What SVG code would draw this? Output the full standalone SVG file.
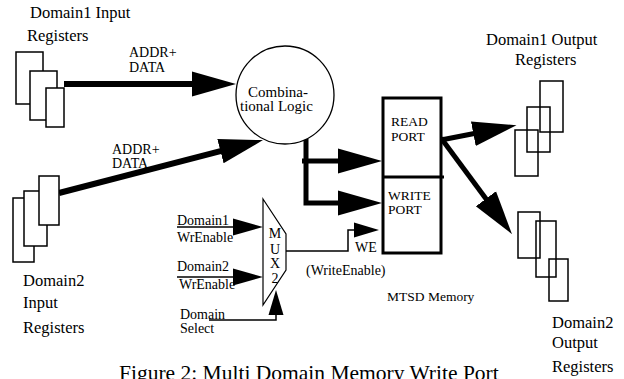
<svg xmlns="http://www.w3.org/2000/svg" width="624" height="379" viewBox="0 0 624 379">
  <style>
    text { font-family: "Liberation Serif", "Times New Roman", serif; fill: #000; }
    .lg { font-size: 16.5px; }
    .md { font-size: 15px; }
    .sm { font-size: 14px; }
    .mem { font-size: 13.5px; }
    .title { font-size: 21.5px; }
    .reg { fill: #fff; stroke: #000; stroke-width: 1.5; }
    .oreg { fill: none; stroke: #000; stroke-width: 1.5; }
    .bus { fill: none; stroke: #000; stroke-width: 6; }
    .bus5 { fill: none; stroke: #000; stroke-width: 5; }
    .sig { fill: none; stroke: #000; stroke-width: 1.5; }
  </style>
  <defs>
    <marker id="bigHead" markerUnits="userSpaceOnUse" viewBox="0 -13 46 26" markerWidth="46" markerHeight="26" refX="1" refY="0" orient="auto">
      <path d="M0,-12.5 L44,0 L0,12.5 z" fill="#000"/>
    </marker>
    <marker id="midHead" markerUnits="userSpaceOnUse" viewBox="0 -9 31 18" markerWidth="31" markerHeight="18" refX="1" refY="0" orient="auto">
      <path d="M0,-8.5 L30,0 L0,8.5 z" fill="#000"/>
    </marker>
    <marker id="smallHead" markerUnits="userSpaceOnUse" viewBox="0 -8 26 16" markerWidth="26" markerHeight="16" refX="1" refY="0" orient="auto">
      <path d="M0,-7.5 L25,0 L0,7.5 z" fill="#000"/>
    </marker>
  </defs>

  <!-- connectors -->
  <g id="connectors">
    <line class="bus" x1="64" y1="84" x2="193" y2="84" marker-end="url(#bigHead)"/>
    <line class="bus" x1="59" y1="193" x2="221.4" y2="150.9" marker-end="url(#bigHead)"/>
    <path class="bus5" d="M302,161 H339" marker-end="url(#bigHead)"/>
    <path class="bus5" d="M306,139 V203 H339" marker-end="url(#bigHead)"/>
    <line class="bus5" x1="441" y1="140" x2="474.3" y2="133.5" marker-end="url(#bigHead)"/>
    <line class="bus5" x1="441" y1="138" x2="486.5" y2="199.6" marker-end="url(#bigHead)"/>
    <path class="sig" d="M177,227 H234" marker-end="url(#midHead)"/>
    <path class="sig" d="M177,277 H234" marker-end="url(#midHead)"/>
    <path class="sig" d="M209,320 H276 V314" marker-end="url(#smallHead)"/>
    <path class="sig" d="M286,251 H348 V230 H355" marker-end="url(#smallHead)"/>
  </g>

  <!-- Domain1 input registers -->
  <g id="domain1-input">
    <rect class="reg" x="16" y="52" width="27" height="52"/>
    <rect class="reg" x="30" y="71" width="27" height="49"/>
    <rect class="reg" x="46" y="88" width="18" height="39"/>
    <text class="lg" x="30" y="18">Domain1 Input</text>
    <text class="lg" x="27" y="41">Registers</text>
  </g>

  <!-- Domain2 input registers -->
  <g id="domain2-input">
    <rect class="reg" x="13" y="198" width="21" height="64"/>
    <rect class="reg" x="24" y="191" width="23" height="55"/>
    <rect class="reg" x="39" y="176" width="20" height="49"/>
    <text class="lg" x="23" y="286">Domain2</text>
    <text class="lg" x="23" y="308">Input</text>
    <text class="lg" x="23" y="333">Registers</text>
  </g>

  <!-- bus labels -->
  <g id="bus-labels">
    <text class="sm" x="129" y="57">ADDR+</text>
    <text class="sm" x="129" y="72">DATA</text>
    <text class="sm" x="112" y="154">ADDR+</text>
    <text class="sm" x="112" y="168">DATA</text>
  </g>

  <!-- combinational logic -->
  <g id="comb-logic">
    <circle cx="285" cy="95" r="49" fill="#fff" stroke="#000" stroke-width="1.3"/>
    <text class="md" x="248" y="96.5">Combina-</text>
    <text class="md" x="240" y="111">tional Logic</text>
  </g>

  <!-- MTSD memory -->
  <g id="mtsd-memory">
    <rect x="383" y="98" width="58" height="155" fill="#fff" stroke="#000" stroke-width="3"/>
    <line x1="383" y1="177" x2="444" y2="177" stroke="#000" stroke-width="3"/>
    <text class="mem" x="391" y="126">READ</text>
    <text class="mem" x="391" y="141">PORT</text>
    <text class="mem" x="388" y="200">WRITE</text>
    <text class="mem" x="388" y="214">PORT</text>
    <text class="mem" x="387" y="301">MTSD Memory</text>
  </g>

  <!-- write enable mux -->
  <g id="mux2">
    <polygon points="263,199 286,234 286,270 263,305" fill="#fff" stroke="#000" stroke-width="1.2"/>
    <text class="sm" x="275" y="238" text-anchor="middle">M</text>
    <text class="sm" x="275" y="254" text-anchor="middle">U</text>
    <text class="sm" x="275" y="268" text-anchor="middle">X</text>
    <text class="sm" x="275" y="283" text-anchor="middle">2</text>
  </g>

  <!-- mux inputs and output labels -->
  <g id="mux-labels">
    <text class="sm" x="177" y="225">Domain1</text>
    <text class="sm" x="177" y="242">WrEnable</text>
    <text class="sm" x="177" y="271">Domain2</text>
    <text class="sm" x="179" y="289">WrEnable</text>
    <text class="sm" x="180" y="319">Domain</text>
    <text class="sm" x="180" y="333">Select</text>
    <text class="sm" x="355" y="252">WE</text>
    <text class="sm" x="306" y="275">(WriteEnable)</text>
  </g>

  <!-- Domain1 output registers -->
  <g id="domain1-output">
    <rect class="oreg" x="540" y="81" width="23" height="51"/>
    <rect class="oreg" x="527" y="107" width="23" height="45"/>
    <rect class="oreg" x="515" y="130" width="23" height="46"/>
    <text class="lg" x="486" y="45">Domain1 Output</text>
    <text class="lg" x="515" y="65">Registers</text>
  </g>

  <!-- Domain2 output registers -->
  <g id="domain2-output">
    <rect class="oreg" x="518" y="212" width="22" height="46"/>
    <rect class="oreg" x="536" y="221" width="20" height="56"/>
    <rect class="oreg" x="549" y="259" width="19" height="42"/>
    <text class="lg" x="552" y="328">Domain2</text>
    <text class="lg" x="552" y="348">Output</text>
    <text class="lg" x="552" y="372">Registers</text>
  </g>

  <text class="title" x="119" y="380">Figure 2: Multi Domain Memory Write Port</text>
</svg>
